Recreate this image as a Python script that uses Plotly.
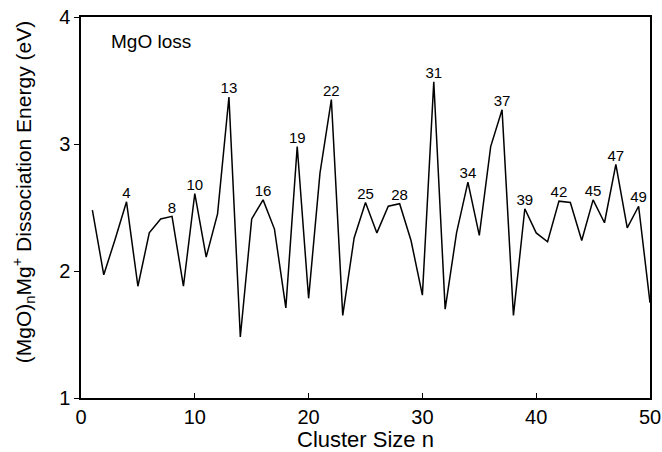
import plotly.graph_objects as go

n_values = list(range(1, 51))
energy = [2.48, 1.97, 2.25, 2.545, 1.88, 2.30, 2.41, 2.43, 1.88, 2.61,
          2.11, 2.45, 3.37, 1.48, 2.41, 2.56, 2.33, 1.71, 2.98, 1.785,
          2.77, 3.35, 1.65, 2.26, 2.54, 2.30, 2.51, 2.53, 2.24, 1.81,
          3.49, 1.70, 2.30, 2.70, 2.28, 2.98, 3.27, 1.65, 2.49, 2.30,
          2.23, 2.55, 2.54, 2.24, 2.56, 2.38, 2.84, 2.34, 2.51, 1.75]
labeled_n = [4, 8, 10, 13, 16, 19, 22, 25, 28, 31, 34, 37, 39, 42, 45, 47, 49]
x_ticks = [0, 10, 20, 30, 40, 50]
y_ticks = [1, 2, 3, 4]

FONT = "Liberation Sans, Arial, sans-serif"

fig = go.Figure()
fig.add_trace(go.Scatter(
    x=n_values, y=energy, mode="lines",
    line=dict(color="black", width=1.5), showlegend=False, hoverinfo="skip"))
fig.add_trace(go.Scatter(
    x=labeled_n, y=[energy[k - 1] for k in labeled_n],
    mode="text", text=[str(k) for k in labeled_n], textposition="top center",
    textfont=dict(family=FONT, size=15, color="black"), showlegend=False))

fig.add_annotation(text="MgO loss", x=0.05, y=0.935, xref="paper", yref="paper",
                   xanchor="left", yanchor="middle", showarrow=False,
                   font=dict(family=FONT, size=19, color="black"))

# axis titles as annotations for precise placement
fig.add_annotation(text="(MgO)<sub>n</sub>Mg<sup>+</sup> Dissociation Energy (eV)",
                   x=-0.102, y=0.54, xref="paper", yref="paper",
                   xanchor="center", yanchor="middle", textangle=-90, showarrow=False,
                   font=dict(family=FONT, size=21, color="black"))
fig.add_annotation(text="Cluster Size n", x=0.5, y=-0.11, xref="paper", yref="paper",
                   xanchor="center", yanchor="middle", showarrow=False,
                   font=dict(family=FONT, size=22, color="black"))

axis_common = dict(showline=True, linecolor="black", linewidth=1.5, mirror=True,
                   showgrid=False, zeroline=False, ticklen=5, tickwidth=1.2,
                   tickcolor="black", automargin=False,
                   tickfont=dict(family=FONT, size=20, color="black"))

fig.update_xaxes(range=[0, 50], tickvals=x_ticks, ticks="inside",
                 ticklabeloverflow="allow", **axis_common)
fig.update_yaxes(range=[1, 4], tickvals=y_ticks, ticks="outside", **axis_common)

fig.update_layout(width=662, height=452, margin=dict(l=81, r=12, t=17, b=54),
                  paper_bgcolor="white", plot_bgcolor="white",
                  font=dict(family=FONT, color="black"))

fig.write_html("out.html")
